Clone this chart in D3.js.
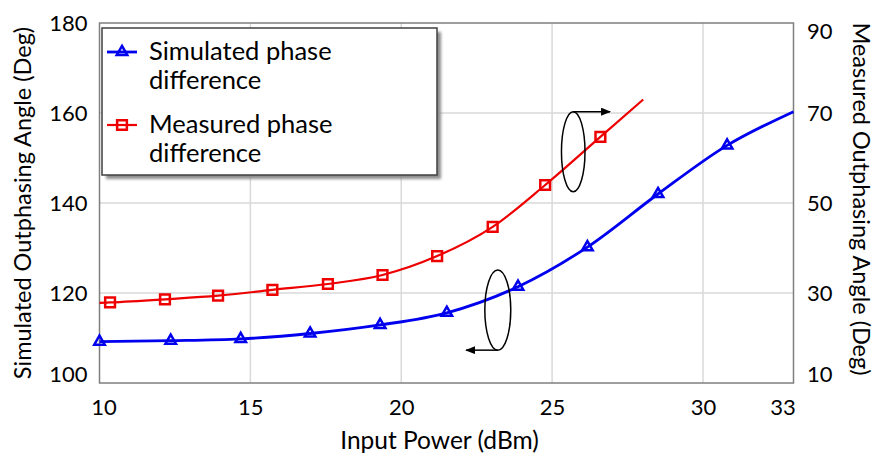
<!DOCTYPE html>
<html>
<head>
<meta charset="utf-8">
<script src="https://cdn.jsdelivr.net/npm/d3@7"></script>
<style>
  body { margin: 0; background: #fff; }
  svg { display: block; font-family: Lato, "Open Sans", sans-serif; }
</style>
</head>
<body>
<div id="chart"></div>
<script>
// values
var simPower = [10, 12.36, 14.68, 16.98, 19.3, 21.51, 23.87, 26.17, 28.51, 30.8, 33];
var simAngle = [109.2, 109.4, 109.8, 111.0, 112.9, 115.6, 121.4, 130.2, 142.0, 152.8, 160.3];

var measPower = [10, 10.35, 12.17, 13.93, 15.73, 17.57, 19.38, 21.19, 23.03, 24.77, 26.6, 28.02];
var measAngle = [27.8, 27.9, 28.6, 29.4, 30.7, 32.0, 34.0, 38.2, 44.7, 54.0, 64.7, 73.0];

var xTicks = [10, 15, 20, 25, 30, 33];
var leftTicks = [100, 120, 140, 160, 180];
var rightTicks = [10, 30, 50, 70, 90];

var legendLabels = [["Simulated phase", "difference"], ["Measured phase", "difference"]];

// ellipses that tell which curve belongs to which axis
var annotations = [
  {axis: "left", cx: 23.2, cy: 116.2, rx: 0.43, ry: 8.9, arrowTo: 22.15, side: "bottom"},
  {axis: "right", cx: 25.7, cy: 61.4, rx: 0.39, ry: 8.9, arrowTo: 26.92, side: "top"}
];

var width = 880, height = 459;
var margin = {top: 23, right: 86.5, bottom: 76, left: 99.5};
var plotW = width - margin.left - margin.right,
    plotH = height - margin.top - margin.bottom;

var blue = "#0000ee", red = "#ee0000";

var svg = d3.select("#chart").append("svg")
    .attr("width", width)
    .attr("height", height);

var defs = svg.append("defs");
defs.append("marker")
    .attr("id", "arrow")
    .attr("markerUnits", "userSpaceOnUse")
    .attr("markerWidth", 10).attr("markerHeight", 8)
    .attr("refX", 9).attr("refY", 4)
    .attr("orient", "auto")
  .append("path")
    .attr("d", "M0,0L10,4L0,8Z")
    .attr("fill", "#000");
defs.append("filter").attr("id", "shadow")
  .append("feGaussianBlur").attr("stdDeviation", 1.5);

var g = svg.append("g")
    .attr("transform", "translate(" + margin.left + "," + margin.top + ")");

var x = d3.scaleLinear().domain([10, 33]).range([0, plotW]);
var yL = d3.scaleLinear().domain([100, 180]).range([plotH, 0]);
var yR = d3.scaleLinear().domain([10, 90]).range([plotH, 0]);

// grid
g.append("g").selectAll("line")
    .data(xTicks.filter(function(d) { return d > 10 && d < 33; }))
    .enter().append("line")
    .attr("x1", x).attr("x2", x)
    .attr("y1", 0).attr("y2", plotH)
    .attr("stroke", "#d9d9d9").attr("stroke-width", 1.5);
g.append("g").selectAll("line")
    .data(leftTicks.filter(function(d) { return d > 100 && d < 180; }))
    .enter().append("line")
    .attr("x1", 0).attr("x2", plotW)
    .attr("y1", yL).attr("y2", yL)
    .attr("stroke", "#d9d9d9").attr("stroke-width", 1.5);

g.append("rect")
    .attr("width", plotW).attr("height", plotH)
    .attr("fill", "none")
    .attr("stroke", "#7f7f7f").attr("stroke-width", 1.5);

// axes (labels only)
var fontSize = 22;
var xAxis = g.append("g")
    .attr("transform", "translate(0," + plotH + ")")
    .call(d3.axisBottom(x).tickValues(xTicks).tickSize(0).tickPadding(16));
xAxis.selectAll("text")
    .attr("dx", function(d) { return d === 33 ? -11 : d === 10 ? 4 : 0; });

var leftAxis = g.append("g")
    .call(d3.axisLeft(yL).tickValues(leftTicks).tickSize(0).tickPadding(12));
leftAxis.selectAll("text")
    .attr("dy", function(d) { return d === 100 ? "-0.08em" : "0.32em"; });

var rightAxis = g.append("g")
    .attr("transform", "translate(" + plotW + ",0)")
    .call(d3.axisRight(yR).tickValues(rightTicks).tickSize(0).tickPadding(13.5));
rightAxis.selectAll("text")
    .attr("dy", function(d) { return d === 10 ? "-0.08em" : d === 90 ? "0.72em" : "0.32em"; });

svg.selectAll(".domain").remove();
svg.selectAll(".tick text")
    .attr("font-family", "Lato, 'Open Sans', sans-serif")
    .attr("font-size", fontSize)
    .attr("fill", "#000");

// lines
var sim = simPower.map(function(p, i) { return {x: p, y: simAngle[i]}; });
var meas = measPower.map(function(p, i) { return {x: p, y: measAngle[i]}; });

var lineL = d3.line().x(function(d) { return x(d.x); }).y(function(d) { return yL(d.y); })
    .curve(d3.curveMonotoneX);
var lineR = d3.line().x(function(d) { return x(d.x); }).y(function(d) { return yR(d.y); })
    .curve(d3.curveMonotoneX);

g.append("path").datum(meas)
    .attr("d", lineR)
    .attr("fill", "none").attr("stroke", red).attr("stroke-width", 2.2);
g.append("path").datum(sim)
    .attr("d", lineL)
    .attr("fill", "none").attr("stroke", blue).attr("stroke-width", 2.8);

var tri = d3.symbol().type(d3.symbolTriangle).size(48);
var sq = d3.symbol().type(d3.symbolSquare).size(95);

g.append("g").selectAll("path")
    .data(sim.slice(0, 10))
    .enter().append("path")
    .attr("d", tri)
    .attr("transform", function(d) { return "translate(" + x(d.x) + "," + yL(d.y) + ")"; })
    .attr("fill", "none").attr("stroke", blue).attr("stroke-width", 2.5);

g.append("g").selectAll("path")
    .data(meas.slice(1, 11))
    .enter().append("path")
    .attr("d", sq)
    .attr("transform", function(d) { return "translate(" + x(d.x) + "," + yR(d.y) + ")"; })
    .attr("fill", "none").attr("stroke", red).attr("stroke-width", 2.5);

// axis pointers
annotations.forEach(function(a) {
  var y = a.axis === "left" ? yL : yR;
  var cx = x(a.cx), cy = y(a.cy);
  var rx = x(a.cx + a.rx) - cx, ry = y(a.cy) - y(a.cy + a.ry);
  g.append("ellipse")
      .attr("cx", cx).attr("cy", cy).attr("rx", rx).attr("ry", ry)
      .attr("fill", "none").attr("stroke", "#000").attr("stroke-width", 1.5);
  var ay = a.side === "top" ? cy - ry : cy + ry;
  g.append("line")
      .attr("x1", cx).attr("y1", ay)
      .attr("x2", x(a.arrowTo)).attr("y2", ay)
      .attr("stroke", "#000").attr("stroke-width", 1.5)
      .attr("marker-end", "url(#arrow)");
});

// legend
var lx = 102, ly = 28, lw = 335, lh = 147;
var legend = svg.append("g");
legend.append("rect")
    .attr("x", lx + 4).attr("y", ly + 4).attr("width", lw).attr("height", lh)
    .attr("fill", "#8c8c8c").attr("filter", "url(#shadow)");
legend.append("rect")
    .attr("x", lx).attr("y", ly).attr("width", lw).attr("height", lh)
    .attr("fill", "#fff").attr("stroke", "#404040").attr("stroke-width", 1.5);

var items = [
  {label: legendLabels[0], color: blue, symbol: tri, width: 2.8},
  {label: legendLabels[1], color: red, symbol: sq, width: 2.2}
];
items.forEach(function(it, i) {
  var cy = 52 + i * 73;
  legend.append("line")
      .attr("x1", 107).attr("x2", 137).attr("y1", cy).attr("y2", cy)
      .attr("stroke", it.color).attr("stroke-width", it.width);
  legend.append("path")
      .attr("d", it.symbol)
      .attr("transform", "translate(122," + cy + ")")
      .attr("fill", "none").attr("stroke", it.color).attr("stroke-width", 2.5);
  legend.append("text")
      .attr("x", 149).attr("y", cy + 8)
      .attr("font-size", 25.5)
      .selectAll("tspan")
      .data(it.label)
      .enter().append("tspan")
      .attr("x", 149)
      .attr("dy", function(d, j) { return j === 0 ? 0 : 29; })
      .text(function(d) { return d; });
});

// axis titles
svg.append("text")
    .attr("x", margin.left + plotW / 2 - 7).attr("y", 449)
    .attr("text-anchor", "middle")
    .attr("font-size", 24.5)
    .text("Input Power (dBm)");

svg.append("text")
    .attr("transform", "translate(31,203) rotate(-90)")
    .attr("text-anchor", "middle")
    .attr("font-size", 23.5)
    .text("Simulated Outphasing Angle (Deg)");

svg.append("text")
    .attr("transform", "translate(853,199) rotate(90)")
    .attr("text-anchor", "middle")
    .attr("font-size", 23.5)
    .text("Measured Outphasing Angle (Deg)");
</script>
</body>
</html>
